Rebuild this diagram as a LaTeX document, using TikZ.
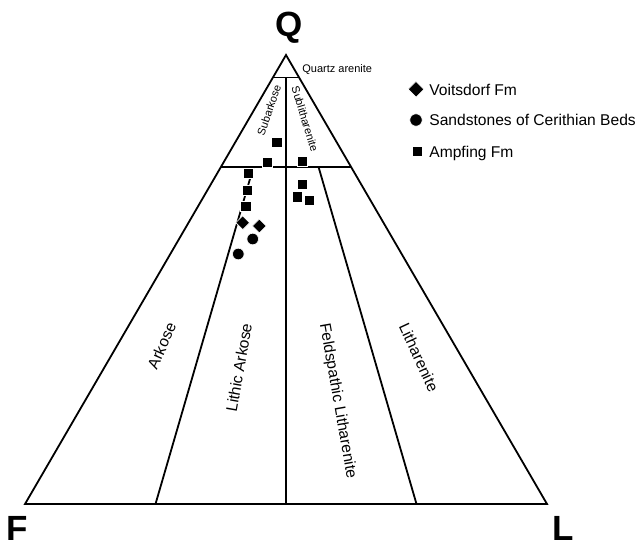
\documentclass[tikz,border=0pt]{standalone}
\usepackage{fontspec}
\setmainfont{Liberation Sans}
\usetikzlibrary{shapes.geometric}

\begin{document}
\begin{tikzpicture}[
		x=0.5pt, y=-0.5pt,
		edge/.style={line width=0.9pt},
		zone/.style={font=\fontsize{7.8}{9}\selectfont, inner sep=0pt},
		subzone/.style={font=\fontsize{5.5}{6.5}\selectfont, inner sep=0pt},
		pole/.style={font=\fontsize{17.5}{20}\selectfont\bfseries, inner sep=0pt},
		sqmark/.style={rectangle, fill=black, draw=white, line width=0.3pt, minimum size=5.2pt, inner sep=0pt},
		diamark/.style={diamond, fill=black, draw=white, line width=0.3pt, minimum size=7pt, inner sep=0pt},
		dotmark/.style={circle, fill=black, draw=white, line width=0.3pt, minimum size=5.8pt, inner sep=0pt},
		legend/.style={font=\fontsize{7.8}{9}\selectfont, anchor=base west, inner sep=0pt},
	]

	\path[fill=white, use as bounding box] (0,0) rectangle (636,541);

	% ---------- QFL triangle ----------
	\coordinate (Q) at (286,55);
	\coordinate (F) at (25,504);
	\coordinate (L) at (547,504);
	\draw[edge, line join=miter] (Q) -- (F) -- (L) -- cycle;

	% ---------- field boundaries ----------
	\draw[edge] (barycentric cs:Q=0.95,F=0.05) -- (barycentric cs:Q=0.95,L=0.05);
	\draw[edge] (barycentric cs:Q=0.75,F=0.25) -- (barycentric cs:Q=0.75,L=0.25);
	\draw[edge] (barycentric cs:Q=0.95,F=0.025,L=0.025) -- (barycentric cs:F=0.5,L=0.5);
	\draw[edge] (barycentric cs:Q=0.75,F=0.1875,L=0.0625) -- (barycentric cs:F=0.75,L=0.25);
	\draw[edge] (barycentric cs:Q=0.75,F=0.0625,L=0.1875) -- (barycentric cs:F=0.25,L=0.75);

	% ---------- poles ----------
	\node[pole] (Qlab) at (289,28) {Q};
	\node[pole] (Flab) at (17,528) {F};
	\node[pole] (Llab) at (563,528) {L};

	% ---------- field names ----------
	\node[subzone, anchor=west] (qa) at (302,70) {Quartz arenite};
	\node[subzone, rotate=71] (sa) at (269,110) {Subarkose};
	\node[subzone, rotate=-73] (sl) at (305,119) {Sublitharenite};
	\node[zone, rotate=66] (ak) at (161.7,345.8) {Arkose};
	\node[zone, rotate=80] (la) at (239,367.5) {Lithic Arkose};
	\node[zone, rotate=-80] (fl) at (337.5,401) {Feldspathic Litharenite};
	\node[zone, rotate=-65] (lt) at (419,357.5) {Litharenite};

	% ---------- Ampfing Fm ----------
	\node[sqmark] (am1) at (276.7,142) {};
	\node[sqmark] (am2) at (267,162.3) {};
	\node[sqmark] (am3) at (302,161.3) {};
	\node[sqmark] (am4) at (248.3,173.3) {};
	\node[sqmark] (am5) at (247.3,190) {};
	\node[sqmark] (am6) at (245.7,206) {};
	\node[sqmark] (am7) at (302,184.3) {};
	\node[sqmark] (am8) at (297,196.7) {};
	\node[sqmark] (am9) at (309,200) {};

	% ---------- Voitsdorf Fm ----------
	\node[diamark] (vd1) at (242.7,222.7) {};
	\node[diamark] (vd2) at (259.3,226) {};

	% ---------- Cerithian Beds ----------
	\node[dotmark] (cb1) at (252.7,239) {};
	\node[dotmark] (cb2) at (238.3,254) {};

	% ---------- legend ----------
	\node[diamark, minimum size=8pt] (keyVd) at (416,89.3) {};
	\node[dotmark, minimum size=6.2pt] (keyCb) at (416,120) {};
	\node[sqmark, minimum size=5pt] (keyAm) at (417,151.7) {};
	\node[legend] (legVd) at (429,95) {Voitsdorf Fm};
	\node[legend] (legCb) at (429,125.6) {Sandstones of Cerithian Beds};
	\node[legend] (legAm) at (429,157.3) {Ampfing Fm};

\end{tikzpicture}
\end{document}
